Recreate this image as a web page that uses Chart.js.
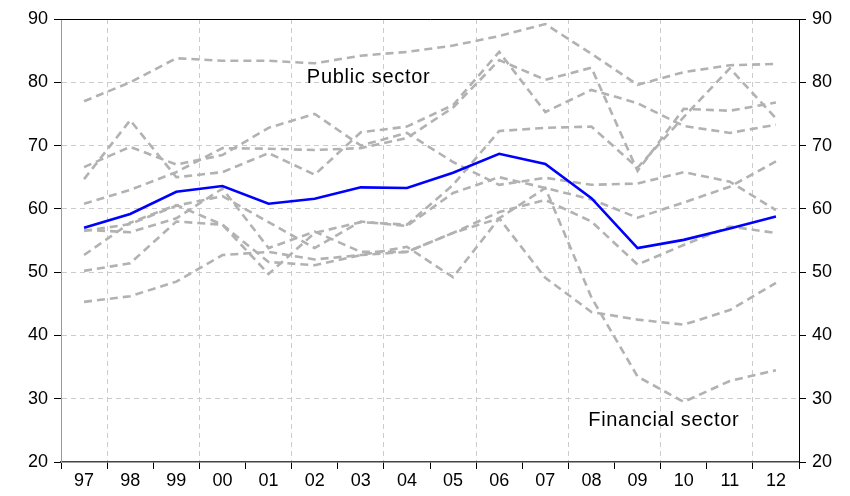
<!DOCTYPE html>
<html>
<head>
<meta charset="utf-8">
<script src="https://cdn.jsdelivr.net/npm/chart.js@4.4.0/dist/chart.umd.min.js"></script>
<style>
  html, body { margin: 0; padding: 0; background: #fff; }
  #wrap { width: 850px; height: 496px; }
</style>
</head>
<body>
<div id="wrap"><canvas id="grafico"></canvas></div>
<script>
// eixo x (anos) e eixo y
const anos = ["97", "98", "99", "00", "01", "02", "03", "04", "05", "06", "07", "08", "09", "10", "11", "12"];
const ticksY = [20, 30, 40, 50, 60, 70, 80, 90];

// linha azul (media)
const media = [57.0, 59.2, 62.7, 63.6, 60.8, 61.6, 63.4, 63.3, 65.7, 68.7, 67.1, 61.7, 53.8, 55.1, 56.9, 58.8];

// linhas cinza (paises)
const serie1 = [77.0, 80.0, 83.8, 83.4, 83.4, 83.0, 84.2, 84.8, 85.8, 87.3, 89.2, 84.5, 79.6, 81.6, 82.7, 82.9];
const serie2 = [60.8, 63.0, 65.8, 69.6, 69.5, 69.3, 69.6, 71.2, 76.0, 83.5, 80.4, 82.3, 66.0, 75.8, 75.5, 76.8];
const serie3 = [66.6, 69.8, 67.0, 68.5, 72.8, 75.0, 70.0, 72.0, 67.4, 63.8, 64.9, 63.8, 64.0, 65.8, 64.3, 59.8];
const serie4 = [64.7, 74.0, 65.0, 65.8, 68.8, 65.4, 72.1, 73.0, 76.4, 84.8, 75.3, 78.8, 76.7, 73.1, 72.0, 73.3];
const serie5 = [56.7, 56.3, 58.5, 63.2, 53.8, 56.4, 53.2, 53.2, 56.2, 59.5, 61.4, 58.0, 51.2, 54.3, 57.2, 56.2];
const serie6 = [52.7, 57.8, 60.6, 57.5, 51.6, 51.1, 52.7, 54.0, 49.2, 58.5, 49.1, 43.7, 42.5, 41.7, 44.0, 48.3];
const serie7 = [50.2, 51.4, 58.0, 57.5, 49.7, 56.2, 57.9, 57.5, 63.8, 72.3, 72.8, 73.0, 66.5, 74.5, 82.2, 74.3];
const serie8 = [45.3, 46.2, 48.5, 52.7, 53.2, 52.0, 52.7, 53.2, 56.2, 58.5, 63.3, 46.0, 33.5, 29.5, 32.8, 34.5];
const serie9 = [56.5, 57.6, 60.5, 62.0, 57.9, 53.8, 58.0, 57.3, 62.5, 65.0, 63.3, 61.5, 58.6, 61.0, 63.5, 67.5];

const seriesCinza = [serie1, serie2, serie3, serie4, serie5, serie6, serie7, serie8, serie9];

/* ================================
      MOLDURA E TEXTOS
================================ */
const moldura = {
    id: "moldura",
    afterDraw(chart) {
        const { ctx, chartArea: a, scales } = chart;
        ctx.save();
        ctx.lineWidth = 1;
        ctx.strokeStyle = "#000";
        ctx.beginPath();
        ctx.moveTo(a.left, a.top + 0.5);
        ctx.lineTo(a.right + 0.5, a.top + 0.5);
        ctx.lineTo(a.right + 0.5, a.bottom);
        ctx.stroke();

        // textos
        ctx.fillStyle = "#000";
        ctx.font = "20px 'Liberation Sans', Arial, sans-serif";
        ctx.letterSpacing = "0.7px";
        ctx.textBaseline = "middle";
        ctx.textAlign = "left";
        ctx.fillText("Public sector", scales.x.getPixelForValue(4.83), scales.y.getPixelForValue(80.8));
        ctx.fillText("Financial sector", scales.x.getPixelForValue(10.93), scales.y.getPixelForValue(26.6));
        ctx.restore();
    }
};

const datasets = [{
    label: "Média",
    data: media,
    borderColor: "#0000ff",
    borderWidth: 2.6,
    pointRadius: 0,
    tension: 0
}];

seriesCinza.forEach((s, i) => {
    datasets.push({
        label: "País " + (i + 1),
        data: s,
        borderColor: "#b2b2b2",
        borderWidth: 2.6,
        borderDash: [8, 5],
        pointRadius: 0,
        tension: 0
    });
});

const fonte = { family: "'Liberation Sans', Arial, sans-serif", size: 18 };

new Chart(document.getElementById("grafico"), {
    type: "line",
    data: { labels: anos, datasets: datasets },
    options: {
        responsive: true,
        maintainAspectRatio: false,
        animation: false,
        layout: { padding: { top: 19 } },
        plugins: { legend: { display: false }, tooltip: { enabled: false } },
        scales: {
            x: {
                offset: true,
                grid: {
                    offset: true,
                    color: ctx => (ctx.index % 2 === 1 ? "#cccccc" : "rgba(0,0,0,0)"),
                    lineWidth: 1,
                    tickColor: "#000",
                    tickLength: 7
                },
                border: { color: "#444", width: 1.5, dash: [5, 4] },
                ticks: { color: "#000", font: fonte, padding: 1, maxRotation: 0, autoSkip: false },
                afterFit: s => { s.height = 34; }
            },
            y: {
                position: "left",
                min: 20, max: 90,
                afterBuildTicks: s => { s.ticks = ticksY.map(v => ({ value: v })); },
                grid: {
                    color: ctx => (ctx.tick && (ctx.tick.value === 20 || ctx.tick.value === 90) ? "rgba(0,0,0,0)" : "#cccccc"),
                    tickColor: "#000",
                    tickLength: 7
                },
                border: { color: "#999", width: 1, dash: [5, 4] },
                ticks: { color: "#000", font: fonte, padding: 6 },
                afterFit: s => { s.width = 61; }
            },
            y2: {
                position: "right",
                min: 20, max: 90,
                afterBuildTicks: s => { s.ticks = ticksY.map(v => ({ value: v })); },
                grid: { drawOnChartArea: false, tickColor: "#000", tickLength: 7 },
                border: { color: "#000", width: 1 },
                ticks: { color: "#000", font: fonte, padding: 6 },
                afterFit: s => { s.width = 51; }
            }
        }
    },
    plugins: [moldura]
});
</script>
</body>
</html>
